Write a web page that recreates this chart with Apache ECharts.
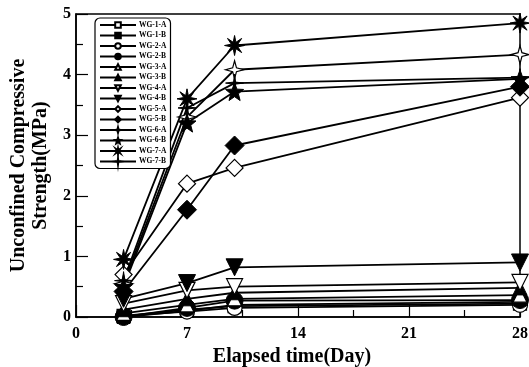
<!DOCTYPE html>
<html><head><meta charset="utf-8">
<script src="https://cdn.jsdelivr.net/npm/echarts@6/dist/echarts.min.js"></script>
<style>html,body{margin:0;padding:0;background:#fff}#c{width:529px;height:367px}</style>
</head><body><div id="c"></div>
<script>
const days = [3, 7, 10, 28];
const seriesNames = ['WG-1-A','WG-1-B','WG-2-A','WG-2-B','WG-3-A','WG-3-B','WG-4-A','WG-4-B','WG-5-A','WG-5-B','WG-6-A','WG-6-B','WG-7-A','WG-7-B'];
const wg1A = [0.02, 0.12, 0.18, 0.22];
const wg1B = [0.00, 0.10, 0.20, 0.25];
const wg2A = [0.02, 0.09, 0.15, 0.20];
const wg2B = [0.00, 0.15, 0.27, 0.28];
const wg3A = [0.06, 0.20, 0.30, 0.36];
const wg3B = [0.12, 0.30, 0.40, 0.48];
const wg4A = [0.22, 0.44, 0.50, 0.57];
const wg4B = [0.30, 0.56, 0.82, 0.90];
const wg5A = [0.70, 2.20, 2.46, 3.62];
const wg5B = [0.42, 1.77, 2.83, 3.80];
const wg6A = [0.55, 3.30, 4.08, 4.33];
const wg6B = [0.50, 3.20, 3.72, 3.93];
const wg7A = [0.95, 3.60, 4.48, 4.85];
const wg7B = [0.60, 3.45, 3.86, 3.95];
const xTicks = [0, 7, 14, 21, 28];
const yTicks = [0, 1, 2, 3, 4, 5];

function starPath(n, rOut, rIn) {
  let s = '';
  for (let i = 0; i < 2 * n; i++) {
    const r = i % 2 === 0 ? rOut : rIn;
    const a = Math.PI * i / n - Math.PI / 2;
    s += (i === 0 ? 'M' : 'L') + (r * Math.cos(a)).toFixed(2) + ',' + (r * Math.sin(a)).toFixed(2) + ' ';
  }
  return 'path://' + s + 'Z';
}
const star4 = starPath(4, 10, 3);
const star5 = starPath(5, 10, 4.2);
const star8 = starPath(8, 10, 3.5);
const cross = starPath(4, 10, 1.6);

const values = [wg1A, wg1B, wg2A, wg2B, wg3A, wg3B, wg4A, wg4B, wg5A, wg5B, wg6A, wg6B, wg7A, wg7B];
const sym = [
  ['rect', false, 0, 13], ['rect', true, 0, 13],
  ['circle', false, 0, 15], ['circle', true, 0, 17],
  ['triangle', false, 0, 14], ['triangle', true, 0, 14],
  ['triangle', false, 180, 16], ['triangle', true, 180, 17],
  ['diamond', false, 0, 17], ['diamond', true, 0, 19],
  [star4, false, 0, 18], [star5, true, 0, 18],
  [star8, true, 0, 20], [cross, true, 0, 18]
];
const font = '"Liberation Serif", "Times New Roman", serif';

const series = seriesNames.map((name, i) => ({
  name: name,
  type: 'line',
  data: days.map((d, j) => [d, values[i][j]]),
  symbol: sym[i][0],
  symbolRotate: sym[i][2],
  symbolSize: sym[i][3],
  lineStyle: { color: '#000', width: 1.8 },
  itemStyle: sym[i][1] ? { color: '#000', borderColor: '#000', borderWidth: 1 } : { color: '#fff', borderColor: '#000', borderWidth: 1.2 },
  z: 2,
  animation: false
}));

const chart = echarts.init(document.getElementById('c'));
chart.setOption({
  animation: false,
  backgroundColor: '#fff',
  grid: { left: 76, right: 9, top: 14, bottom: 50, outerBoundsMode: 'none', containLabel: false, show: true, borderColor: '#000', borderWidth: 1.5, backgroundColor: 'transparent' },
  legend: {
    orient: 'vertical', left: 95, top: 18,
    itemWidth: 36, itemHeight: 7, itemGap: 2.5,
    padding: [3, 4, 3, 4],
    backgroundColor: '#fff', borderColor: '#000', borderWidth: 1.2, borderRadius: 5,
    textStyle: { fontFamily: font, fontWeight: 'bold', fontSize: 7.5, lineHeight: 7.5, color: '#000', padding: [0, 0, 0, -2] },
    data: seriesNames,
    z: 10
  },
  xAxis: {
    type: 'value', min: xTicks[0], max: xTicks[xTicks.length - 1], interval: 7,
    name: 'Elapsed time(Day)', nameLocation: 'middle', nameGap: 28,
    nameTextStyle: { fontFamily: font, fontWeight: 'bold', fontSize: 20, color: '#000', padding: [0, 12, 0, 0] },
    axisLine: { lineStyle: { color: '#000', width: 1.5 } },
    axisTick: { inside: true, length: 12, lineStyle: { color: '#000', width: 1.2 } },
    minorTick: { show: true, splitNumber: 2, length: 7, lineStyle: { color: '#000', width: 1.2 } },
    splitLine: { show: false },
    axisLabel: { fontFamily: font, fontWeight: 'bold', fontSize: 16, color: '#000', margin: 9, formatter: v => xTicks.includes(v) ? String(v) : '' }
  },
  yAxis: {
    type: 'value', min: yTicks[0], max: yTicks[yTicks.length - 1], interval: 1,
    name: 'Unconfined Compressive\nStrength(MPa)', nameLocation: 'middle', nameGap: 23, nameRotate: 90,
    nameTextStyle: { fontFamily: font, fontWeight: 'bold', fontSize: 20, color: '#000', lineHeight: 22 },
    axisLine: { show: true, lineStyle: { color: '#000', width: 1.5 } },
    axisTick: { inside: true, length: 12, lineStyle: { color: '#000', width: 1.2 } },
    minorTick: { show: true, splitNumber: 2, length: 7, lineStyle: { color: '#000', width: 1.2 } },
    splitLine: { show: false },
    axisLabel: { fontFamily: font, fontWeight: 'bold', fontSize: 16, color: '#000', margin: 5, formatter: v => yTicks.includes(v) ? String(v) : '' }
  },
  series: series
});
</script></body></html>
